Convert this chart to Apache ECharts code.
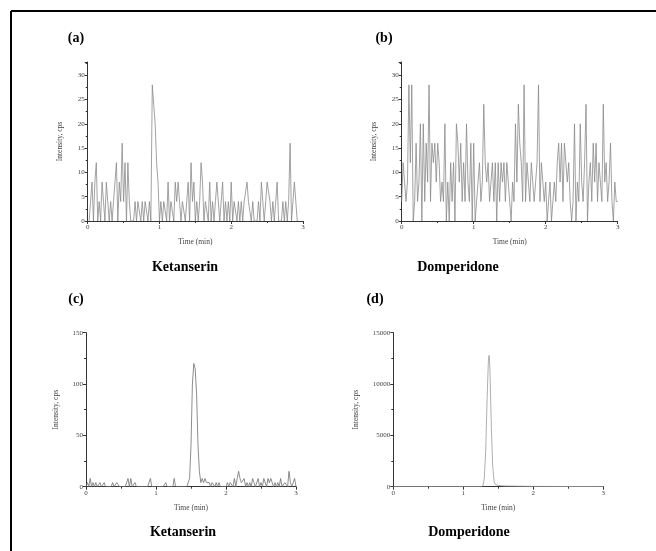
<!DOCTYPE html>
<html>
<head>
<meta charset="utf-8">
<script src="https://cdn.jsdelivr.net/npm/echarts@6/dist/echarts.min.js"></script>
<style>
html,body{margin:0;padding:0;background:#fff;}
#chart{width:656px;height:551px;}
</style>
</head>
<body>
<div id="chart"></div>
<script>
// ---- Data ----
// Panel (a) Ketanserin blank, sampled every 0.02 min starting at 0.02 min
var aStart = 0.02, aStep = 0.02;
var aIntensity = [
  0,4,8,0,8, 12,0,4,0,8, 4,0,8,4,0, 4,0,4,4,12, 0,8,4,16,4,
  12,0,12,4,0, 0,0,4,0,4, 4,0,4,0,4, 4,0,4,0,28, 24,20,12,8,0,
  4,0,4,4,0, 8,0,4,4,0, 8,4,8,4,0, 4,4,0,4,8, 0,12,4,8,0,
  4,0,4,12,8, 0,4,4,0,8, 0,4,0,4,8, 4,0,4,8,0, 4,0,4,0,8,
  0,4,4,0,4, 0,4,0,4,4, 8,4,4,0,4, 0,0,0,4,0, 8,4,0,4,8,
  8,4,0,4,0, 4,8,0,0,0, 4,0,4,0,4, 16,0,4,8,4, 0
];
// Panel (b) Domperidone blank, every 0.02 min starting at 0
var bStart = 0.0, bStep = 0.02;
var bIntensity = [
  4,12,8,4,8, 28,12,28,0,4, 16,4,8,20,0, 20,4,16,8,28, 4,16,12,16,8,
  16,12,4,8,4, 20,0,8,0,12, 4,12,0,20,16, 8,16,4,12,4, 20,8,4,16,0,
  16,0,4,8,12, 4,8,24,12,8, 12,4,8,12,4, 12,0,12,4,12, 8,12,4,12,8,
  4,0,8,4,20, 8,24,16,12,4, 28,4,12,8,4, 12,8,4,8,12, 28,4,12,8,4,
  8,0,4,8,0, 4,8,4,12,16, 8,16,4,16,12, 8,12,4,0,4, 20,0,8,4,20,
  8,4,12,24,0, 8,12,4,16,8, 16,4,12,8,4, 24,8,12,4,8, 16,4,0,8,4, 4
];
// Panel (c) Ketanserin sample, every 0.02 min starting at 0
var cStart = 0.0, cStep = 0.02;
var cIntensity = [
  0,4,0,8,0, 4,0,4,0,0, 4,0,0,4,0, 0,0,0,0,4, 0,0,4,4,0,
  0,0,0,0,0, 8,0,8,0,0, 4,0,0,0,0, 0,0,0,0,0, 4,8,0,0,0,
  0,0,0,0,0, 0,0,4,0,0, 0,0,0,8,0, 0,0,0,0,0, 0,0,0,0,8,
  40,100,120,115,90, 40,15,4,8,4, 8,4,4,4,0, 4,4,0,4,0, 4,0,0,0,0,
  0,4,0,4,4, 0,8,0,8,15, 8,4,4,8,0, 4,0,4,0,8, 4,0,0,8,0,
  4,0,8,8,0, 8,4,8,4,0, 4,0,4,0,8, 0,0,4,4,0, 15,4,0,4,8, 0
];
// Panel (d) Domperidone sample
var dTime = [0, 0.5, 1.0, 1.25, 1.28, 1.30, 1.32, 1.34, 1.36, 1.37, 1.38, 1.40, 1.42, 1.44, 1.46, 1.50, 1.60, 1.80, 2.0, 2.5, 3.0];
var dIntensity = [0, 0, 0, 0, 100, 800, 3500, 8500, 12600, 12800, 11500, 6000, 2000, 500, 200, 120, 70, 50, 30, 20, 10];

var panelLetters = ['(a)', '(b)', '(c)', '(d)'];
var compoundNames = ['Ketanserin', 'Domperidone', 'Ketanserin', 'Domperidone'];
var xTitle = 'Time (min)';
var yTitle = 'Intensity, cps';

function toPairs(start, step, vals) {
  var out = [];
  for (var i = 0; i < vals.length; i++) out.push([+(start + i * step).toFixed(4), vals[i]]);
  return out;
}
function zipPairs(t, v) {
  var out = [];
  for (var i = 0; i < t.length; i++) out.push([t[i], v[i]]);
  return out;
}

var chart = echarts.init(document.getElementById('chart'), null, {renderer: 'canvas'});

var serif = 'Liberation Serif, Times New Roman, serif';
var axisColor = '#333';
var labelColor = '#444';

var grids = [
  {left: 87.7, top: 62, width: 215.3, height: 159},
  {left: 401.7, top: 62, width: 216, height: 159},
  {left: 86, top: 332.7, width: 210, height: 154},
  {left: 393.3, top: 332.7, width: 210, height: 154}
];
var yMax = [32.7, 32.7, 150, 15000];
var yInt = [5, 5, 50, 5000];
var yNameGap = [24, 24, 26, 33];

function xAxis(i) {
  return {
    gridIndex: i, type: 'value', min: 0, max: 3, interval: 1,
    name: xTitle, nameLocation: 'middle', nameGap: 17,
    nameTextStyle: {fontFamily: serif, fontSize: 7.5, color: labelColor},
    axisLine: {lineStyle: {color: axisColor, width: 1}},
    axisTick: {length: 3, lineStyle: {color: axisColor}},
    minorTick: {show: true, splitNumber: 2, length: 2, lineStyle: {color: axisColor}},
    axisLabel: {fontFamily: serif, fontSize: 7, color: labelColor, margin: 3},
    splitLine: {show: false}
  };
}
function yAxis(i) {
  return {
    gridIndex: i, type: 'value', min: 0, max: yMax[i], interval: yInt[i],
    name: yTitle, nameLocation: 'middle', nameGap: yNameGap[i],
    nameTextStyle: {fontFamily: serif, fontSize: 7.5, color: labelColor},
    axisLine: {show: true, lineStyle: {color: axisColor, width: 1}},
    axisTick: {show: true, length: 3, lineStyle: {color: axisColor}},
    minorTick: {show: true, splitNumber: 2, length: 2, lineStyle: {color: axisColor}},
    axisLabel: {fontFamily: serif, fontSize: 7, color: labelColor, margin: 3,
      formatter: function (v) { return (Math.abs(v % yInt[i]) < 1e-9) ? String(v) : ''; }},
    splitLine: {show: false}
  };
}

var lineColors = ['#8a8a8a', '#8a8a8a', '#707070', '#9a9a9a'];
var seriesData = [
  toPairs(aStart, aStep, aIntensity),
  toPairs(bStart, bStep, bIntensity),
  toPairs(cStart, cStep, cIntensity),
  zipPairs(dTime, dIntensity)
];

var series = seriesData.map(function (d, i) {
  return {
    type: 'line', xAxisIndex: i, yAxisIndex: i, data: d,
    showSymbol: false, symbol: 'none', animation: false,
    lineStyle: {color: lineColors[i], width: 0.8}
  };
});

var letterPos = [[76, 38], [384, 38], [76, 299], [375, 299]];
var namePos = [[185, 267], [458, 267], [183, 532], [469, 532]];
var graphics = [
  {type: 'line', shape: {x1: 11, y1: 11, x2: 656, y2: 11}, style: {stroke: '#000', lineWidth: 2}},
  {type: 'line', shape: {x1: 11, y1: 11, x2: 11, y2: 551}, style: {stroke: '#000', lineWidth: 2}}
];
panelLetters.forEach(function (t, i) {
  graphics.push({type: 'text', x: letterPos[i][0], y: letterPos[i][1],
    style: {text: t, font: 'bold 14px ' + serif, fill: '#000', textAlign: 'center', textVerticalAlign: 'middle'}});
});
compoundNames.forEach(function (t, i) {
  graphics.push({type: 'text', x: namePos[i][0], y: namePos[i][1],
    style: {text: t, font: 'bold 14px ' + serif, fill: '#000', textAlign: 'center', textVerticalAlign: 'middle'}});
});

chart.setOption({
  animation: false,
  backgroundColor: '#fff',
  grid: grids,
  xAxis: [0, 1, 2, 3].map(xAxis),
  yAxis: [0, 1, 2, 3].map(yAxis),
  series: series,
  graphic: graphics
});
</script>
</body>
</html>
